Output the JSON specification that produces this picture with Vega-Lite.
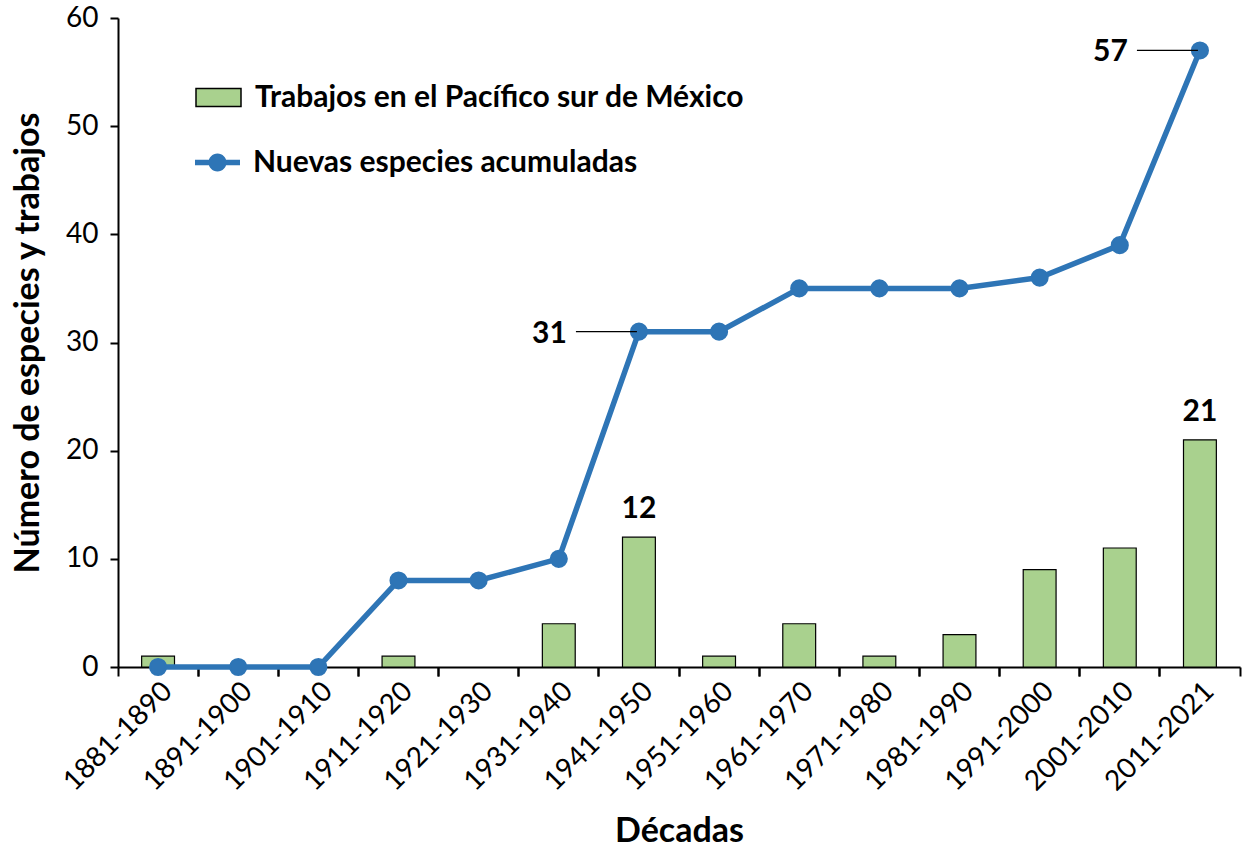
{
  "$schema": "https://vega.github.io/schema/vega-lite/v6.json",
  "width": 1122,
  "height": 649,
  "autosize": {"type": "none"},
  "padding": {"left": 118, "top": 18, "right": 12, "bottom": 183},
  "background": "white",
  "config": {
    "font": "Lato",
    "view": {"stroke": null},
    "axis": {
      "domainColor": "black", "domainWidth": 2, "tickColor": "black", "tickWidth": 2,
      "labelColor": "black", "labelFontSize": 28, "labelFont": "Lato",
      "titleColor": "black", "titleFontSize": 34, "titleFontWeight": "bold", "titleFont": "Lato",
      "grid": false
    },
    "legend": {"padding": 0, "offset": 0, "labelFont": "Lato", "labelFontSize": 30, "labelFontWeight": "bold", "labelColor": "black", "labelLimit": 0}
  },
  "data": {
    "values": [
      {"decada": "1881-1890", "trabajos": 1, "especies": 0},
      {"decada": "1891-1900", "trabajos": 0, "especies": 0},
      {"decada": "1901-1910", "trabajos": 0, "especies": 0},
      {"decada": "1911-1920", "trabajos": 1, "especies": 8},
      {"decada": "1921-1930", "trabajos": 0, "especies": 8},
      {"decada": "1931-1940", "trabajos": 4, "especies": 10},
      {"decada": "1941-1950", "trabajos": 12, "especies": 31},
      {"decada": "1951-1960", "trabajos": 1, "especies": 31},
      {"decada": "1961-1970", "trabajos": 4, "especies": 35},
      {"decada": "1971-1980", "trabajos": 1, "especies": 35},
      {"decada": "1981-1990", "trabajos": 3, "especies": 35},
      {"decada": "1991-2000", "trabajos": 9, "especies": 36},
      {"decada": "2001-2010", "trabajos": 11, "especies": 39},
      {"decada": "2011-2021", "trabajos": 21, "especies": 57}
    ]
  },
  "resolve": {"axis": {"x": "independent", "y": "independent"}},
  "layer": [
    {
      "mark": {"type": "bar", "width": {"band": 0.41}, "stroke": "black", "strokeWidth": 1.2},
      "encoding": {
        "x": {"field": "decada", "type": "nominal", "sort": null, "scale": {"paddingInner": 0, "paddingOuter": 0},
              "axis": {"orient": "bottom", "title": "Décadas", "labelAngle": -45, "ticks": false, "domain": true, "labelPadding": 10, "titlePadding": 18}},
        "y": {"field": "trabajos", "type": "quantitative", "scale": {"domain": [0, 60]},
              "axis": {"title": "Número de especies y trabajos", "values": [0, 10, 20, 30, 40, 50, 60], "tickSize": 8, "labelPadding": 12, "titlePadding": 20}},
        "fill": {"datum": "Trabajos en el Pacífico sur de México", "type": "nominal",
                 "scale": {"range": ["#a9d18e"]},
                 "legend": {"title": null, "orient": "none", "legendX": 77, "legendY": 56,
                            "symbolType": "M-1,-0.4H1V0.4H-1Z", "symbolSize": 2025,
                            "symbolStrokeColor": "black", "symbolStrokeWidth": 1.5, "labelOffset": 13}},
        "strokeOpacity": {"condition": {"test": "datum.trabajos == 0", "value": 0}, "value": 1}
      }
    },
    {
      "mark": {"type": "line", "color": "#2e75b6", "strokeWidth": 5.5,
               "point": {"filled": true, "size": 260, "color": "#2e75b6"}},
      "encoding": {
        "x": {"field": "decada", "type": "nominal", "sort": null,
              "axis": {"orient": "bottom", "title": null, "labels": false, "domain": false, "ticks": true, "tickSize": 9, "bandPosition": 0}},
        "y": {"field": "especies", "type": "quantitative", "axis": null},
        "stroke": {"datum": "Nuevas especies acumuladas", "type": "nominal",
                   "scale": {"range": ["#2e75b6"]},
                   "legend": {"title": null, "orient": "none", "legendX": 77, "legendY": 122,
                              "symbolType": "M-1,-0.12H1V0.12H-1Z M-0.4,0A0.4,0.4 0 1,1 0.4,0A0.4,0.4 0 1,1 -0.4,0Z",
                              "symbolSize": 2025, "symbolFillColor": "#2e75b6", "symbolStrokeWidth": 0, "labelOffset": 13}}
      }
    },
    {
      "transform": [{"filter": "datum.decada == '1941-1950' || datum.decada == '2011-2021'"}],
      "mark": {"type": "text", "baseline": "bottom", "dy": -13, "fontSize": 30, "fontWeight": "bold", "color": "black"},
      "encoding": {
        "x": {"field": "decada", "type": "nominal", "sort": null, "axis": null},
        "y": {"field": "trabajos", "type": "quantitative", "axis": null},
        "text": {"field": "trabajos"}
      }
    },
    {
      "transform": [{"filter": "datum.decada == '1941-1950' || datum.decada == '2011-2021'"}],
      "mark": {"type": "text", "align": "right", "baseline": "middle", "dx": -72, "dy": 2, "fontSize": 30, "fontWeight": "bold", "color": "black"},
      "encoding": {
        "x": {"field": "decada", "type": "nominal", "sort": null, "axis": null},
        "y": {"field": "especies", "type": "quantitative", "axis": null},
        "text": {"field": "especies"}
      }
    },
    {
      "transform": [{"filter": "datum.decada == '1941-1950' || datum.decada == '2011-2021'"}],
      "mark": {"type": "rule", "color": "black", "strokeWidth": 1.2, "xOffset": -63, "x2Offset": -2},
      "encoding": {
        "x": {"field": "decada", "type": "nominal", "sort": null,
              "axis": {"orient": "bottom", "title": null, "labels": false, "domain": false, "ticks": true, "tickSize": 9, "bandPosition": 1}},
        "x2": {"field": "decada"},
        "y": {"field": "especies", "type": "quantitative", "axis": null}
      }
    }
  ]
}
